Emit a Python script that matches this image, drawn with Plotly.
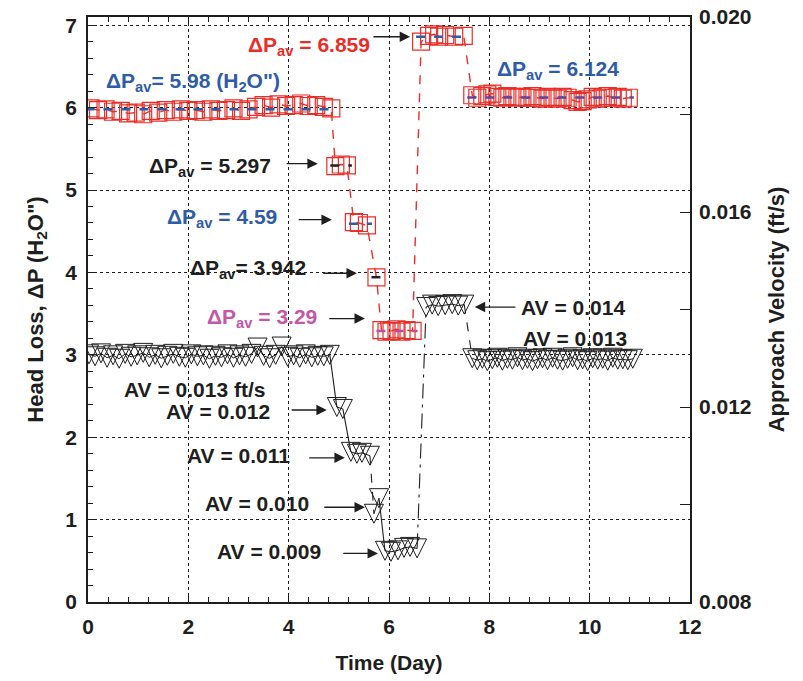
import plotly.graph_objects as go

# ---------------- data ----------------
# Head loss, ΔP (in H2O) by test phase: time (day) and value
dp_t1 = [0.05, 0.2, 0.35, 0.5, 0.65, 0.8, 0.95, 1.1, 1.25, 1.4, 1.55, 1.7, 1.85, 2.0, 2.15, 2.3, 2.45,
         2.6, 2.75, 2.9, 3.05, 3.2, 3.35, 3.5, 3.65, 3.8, 3.95, 4.1, 4.25, 4.4, 4.55, 4.7, 4.85]
dp_v1 = [5.99, 5.97, 5.98, 5.95, 5.96, 5.93, 5.94, 5.92, 5.96, 5.94, 5.97, 5.95, 5.98, 5.96, 5.97, 5.95, 5.98,
         5.96, 5.97, 5.99, 5.96, 5.98, 6.01, 6.03, 6.00, 6.04, 6.02, 6.03, 6.05, 6.02, 6.03, 6.01, 5.99]
dp_t2 = [4.93, 5.04, 5.16]
dp_v2 = [5.29, 5.31, 5.30]
dp_t3 = [5.30, 5.40, 5.56]
dp_v3 = [4.61, 4.60, 4.57]
dp_t4 = [5.75]
dp_v4 = [3.94]
dp_t5 = [5.85, 5.95, 6.05, 6.15, 6.25, 6.35, 6.47]
dp_v5 = [3.30, 3.28, 3.29, 3.31, 3.28, 3.30, 3.29]
dp_t6 = [6.64, 6.80, 6.90, 7.00, 7.12, 7.30, 7.49]
dp_v6 = [6.80, 6.87, 6.89, 6.86, 6.88, 6.86, 6.87]
dp_t7 = [7.66, 7.76, 7.86, 7.96, 8.06, 8.16, 8.26, 8.36, 8.46, 8.56, 8.66, 8.76, 8.86, 8.96, 9.06, 9.16,
         9.26, 9.36, 9.46, 9.56, 9.66, 9.76, 9.86, 9.96, 10.06, 10.16, 10.26, 10.36, 10.46, 10.56, 10.66, 10.78]
dp_v7 = [6.15, 6.12, 6.14, 6.16, 6.17, 6.13, 6.12, 6.14, 6.13, 6.12, 6.13, 6.12, 6.14, 6.12, 6.11, 6.13,
         6.12, 6.11, 6.13, 6.12, 6.09, 6.07, 6.08, 6.10, 6.13, 6.11, 6.12, 6.14, 6.12, 6.13, 6.11, 6.12]
dp_avg = [5.98, 5.297, 4.59, 3.942, 3.29, 6.859, 6.124]
dp_avg_colors = ["#2f5ca8", "#231f20", "#2f5ca8", "#231f20", "#b94fa0", "#2f5ca8", "#5a47a0"]

# Approach velocity, AV (ft/s) by test phase
av_t1 = [0.02, 0.14, 0.26, 0.38, 0.50, 0.62, 0.74, 0.86, 0.98, 1.10, 1.22, 1.34, 1.46, 1.58, 1.70, 1.82,
         1.94, 2.06, 2.18, 2.30, 2.42, 2.54, 2.66, 2.78, 2.90, 3.02, 3.14, 3.26, 3.38, 3.50, 3.62, 3.74,
         3.86, 3.98, 4.10, 4.22, 4.34, 4.46, 4.58, 4.70, 4.82]
av_v1 = [0.01308, 0.01304, 0.01310, 0.01301, 0.01306, 0.01299, 0.01309, 0.01303, 0.01306, 0.01311,
         0.01302, 0.01307, 0.01300, 0.01305, 0.01309, 0.01303, 0.01301, 0.01308, 0.01304, 0.01306,
         0.01299, 0.01305, 0.01302, 0.01308, 0.01301, 0.01306, 0.01303, 0.01309, 0.01322, 0.01305,
         0.01300, 0.01307, 0.01324, 0.01303, 0.01306, 0.01301, 0.01308, 0.01302, 0.01305, 0.01304,
         0.01307]
av_t2 = [4.96, 5.08]
av_v2 = [0.01200, 0.01196]
av_t3 = [5.24, 5.36, 5.46, 5.62]
av_v3 = [0.01108, 0.01104, 0.01106, 0.01100]
av_t4 = [5.70, 5.80]
av_v4 = [0.00981, 0.01013]
av_t5 = [5.92, 6.04, 6.18, 6.30, 6.42, 6.56]
av_v5 = [0.00905, 0.00903, 0.00906, 0.00911, 0.00913, 0.00910]
av_t6 = [6.74, 6.86, 6.98, 7.12, 7.26, 7.38, 7.50]
av_v6 = [0.01405, 0.01410, 0.01407, 0.01409, 0.01411, 0.01408, 0.01410]
av_t7 = [7.66, 7.76, 7.86, 7.96, 8.06, 8.16, 8.26, 8.36, 8.46, 8.56, 8.66, 8.76, 8.86, 8.96, 9.06, 9.16,
         9.26, 9.36, 9.46, 9.56, 9.66, 9.76, 9.86, 9.96, 10.06, 10.16, 10.26, 10.36, 10.46, 10.56, 10.66,
         10.76, 10.86]
av_v7 = [0.01300, 0.01296, 0.01299, 0.01294, 0.01298, 0.01301, 0.01295, 0.01299, 0.01297, 0.01302,
         0.01296, 0.01299, 0.01294, 0.01298, 0.01300, 0.01296, 0.01301, 0.01297, 0.01295, 0.01299,
         0.01302, 0.01296, 0.01298, 0.01294, 0.01300, 0.01297, 0.01299, 0.01295, 0.01301, 0.01297,
         0.01298, 0.01296, 0.01299]
av_transition_dash = ["solid", "solid", "dash", "solid", "longdashdot", "dash"]

# axis ticks
x_ticks = [0, 2, 4, 6, 8, 10, 12]
y_ticks = [0, 1, 2, 3, 4, 5, 6, 7]
y2_ticks = [0.008, 0.010, 0.012, 0.014, 0.016, 0.018, 0.020]
y2_labels = ["0.008", "", "0.012", "", "0.016", "", "0.020"]

# ---------------- figure ----------------
RED = "#ec2d27"
BLUE = "#2f5ca8"
MAG = "#c457a6"
BLK = "#1e1e1e"
FONT = "Arial, Liberation Sans, sans-serif"

dp_t = [dp_t1, dp_t2, dp_t3, dp_t4, dp_t5, dp_t6, dp_t7]
dp_v = [dp_v1, dp_v2, dp_v3, dp_v4, dp_v5, dp_v6, dp_v7]
av_t = [av_t1, av_t2, av_t3, av_t4, av_t5, av_t6, av_t7]
av_v = [av_v1, av_v2, av_v3, av_v4, av_v5, av_v6, av_v7]

fig = go.Figure()

# Approach velocity: connecting lines between phases
for i, dash in enumerate(av_transition_dash):
    fig.add_trace(go.Scatter(
        x=[av_t[i][-1], av_t[i + 1][0]], y=[av_v[i][-1], av_v[i + 1][0]],
        mode="lines", yaxis="y2", line=dict(color=BLK, width=1.1, dash=dash),
        showlegend=False, hoverinfo="skip"))
# Approach velocity markers
for t, v in zip(av_t, av_v):
    fig.add_trace(go.Scatter(
        x=t, y=v, mode="lines+markers", yaxis="y2",
        line=dict(color=BLK, width=1),
        marker=dict(symbol="arrow-down-open", size=19, standoff=9.5, color=BLK, line=dict(width=1)),
        showlegend=False))

# Head loss markers with dashed connecting line
all_t = [x for ph in dp_t for x in ph]
all_v = [x for ph in dp_v for x in ph]
fig.add_trace(go.Scatter(
    x=all_t, y=all_v, mode="lines+markers",
    line=dict(color=RED, width=1.4, dash="dash"),
    marker=dict(symbol="square-open", size=17, color=RED, line=dict(width=1.2)),
    showlegend=False))

# Phase averages
for t, avg, col in zip(dp_t, dp_avg, dp_avg_colors):
    fig.add_trace(go.Scatter(
        x=[t[0] - 0.1, t[-1] + 0.1], y=[avg, avg], mode="lines",
        line=dict(color=col, width=2.5, dash="dash"), showlegend=False, hoverinfo="skip"))

# ---------------- annotations ----------------
texts = [
    (2.09, 6.31, "ΔP<sub>av</sub>= 5.98 (H<sub>2</sub>O\")", BLUE),
    (4.40, 6.75, "ΔP<sub>av</sub> = 6.859", RED),
    (9.37, 6.46, "ΔP<sub>av</sub> = 6.124", BLUE),
    (2.43, 5.28, "ΔP<sub>av</sub> = 5.297", BLK),
    (2.67, 4.66, "ΔP<sub>av</sub> = 4.59", BLUE),
    (3.19, 4.04, "ΔP<sub>av</sub>= 3.942", BLK),
    (3.47, 3.45, "ΔP<sub>av</sub> = 3.29", MAG),
    (2.13, 2.58, "AV = 0.013 ft/s", BLK),
    (2.59, 2.31, "AV = 0.012", BLK),
    (2.99, 1.78, "AV = 0.011", BLK),
    (3.37, 1.19, "AV = 0.010", BLK),
    (3.61, 0.61, "AV = 0.009", BLK),
    (9.67, 3.58, "AV = 0.014", BLK),
    (9.71, 3.20, "AV = 0.013", BLK),
]
arrows = [
    (6.42, 6.86, 5.66, 6.86),
    (4.58, 5.32, 3.93, 5.32),
    (4.86, 4.64, 4.17, 4.64),
    (5.36, 3.99, 4.66, 3.99),
    (5.52, 3.44, 4.78, 3.44),
    (4.76, 2.33, 4.03, 2.33),
    (5.12, 1.75, 4.38, 1.75),
    (5.52, 1.15, 4.68, 1.15),
    (5.78, 0.59, 5.06, 0.59),
    (7.71, 3.58, 8.55, 3.58),
]
annotations = []
for x, y, s, c in texts:
    annotations.append(dict(x=x, y=y, xref="x", yref="y", text="<b>" + s + "</b>", showarrow=False,
                            xanchor="center", yanchor="middle",
                            font=dict(family=FONT, size=21, color=c)))
for hx, hy, tx, ty in arrows:
    annotations.append(dict(x=hx, y=hy, ax=tx, ay=ty, xref="x", yref="y", axref="x", ayref="y",
                            text="", showarrow=True, arrowhead=2, arrowsize=1.6, arrowwidth=1.3,
                            arrowcolor=BLK))

# The page body adds an 8px margin, so the figure is 8px smaller on each of those sides
fig.update_layout(
    width=795, height=673,
    margin=dict(l=80, r=113, t=9, b=78.5, autoexpand=False),
    paper_bgcolor="white", plot_bgcolor="white",
    showlegend=False,
    annotations=annotations,
    xaxis=dict(
        range=[0, 12], tickvals=x_ticks, ticks="inside", ticklen=9, tickwidth=1.2, tickcolor=BLK,
        minor=dict(dtick=0.4, ticks="inside", ticklen=5, tickwidth=1, tickcolor=BLK, showgrid=False),
        showline=True, linecolor=BLK, linewidth=1.6, mirror="ticks", automargin=False,
        showgrid=True, gridcolor=BLK, gridwidth=1, griddash="dot", zeroline=False,
        tickfont=dict(family=FONT, size=21, color=BLK, weight="bold"), ticklabelstandoff=5,
        ticklabeloverflow="allow",
        title=dict(text="<b>Time (Day)</b>", font=dict(family=FONT, size=21, color=BLK), standoff=18),
    ),
    yaxis=dict(
        range=[0, 7.1], tickvals=y_ticks, ticks="inside", ticklen=9, tickwidth=1.2, tickcolor=BLK,
        minor=dict(dtick=0.2, ticks="inside", ticklen=5, tickwidth=1, tickcolor=BLK, showgrid=False),
        showline=True, linecolor=BLK, linewidth=1.6, mirror=False, automargin=False,
        showgrid=True, gridcolor=BLK, gridwidth=1, griddash="dot", zeroline=False,
        tickfont=dict(family=FONT, size=21, color=BLK, weight="bold"), ticklabelstandoff=5,
        ticklabeloverflow="allow",
        title=dict(text="<b>Head Loss, ΔP (H<sub>2</sub>O\")</b>", font=dict(family=FONT, size=22, color=BLK),
                   standoff=16),
    ),
    yaxis2=dict(
        range=[0.008, 0.020], overlaying="y", side="right", anchor="x", automargin=False,
        tickvals=y2_ticks, ticktext=y2_labels,
        ticks="inside", ticklen=10, tickwidth=1.2, tickcolor=BLK,
        showline=True, linecolor=BLK, linewidth=1.6, showgrid=False, zeroline=False,
        tickfont=dict(family=FONT, size=21, color=BLK, weight="bold"), ticklabelstandoff=3,
        ticklabeloverflow="allow",
        title=dict(text="<b>Approach Velocity (ft/s)</b>", font=dict(family=FONT, size=22, color=BLK),
                   standoff=18),
    ),
)

fig.write_html("out.html")
